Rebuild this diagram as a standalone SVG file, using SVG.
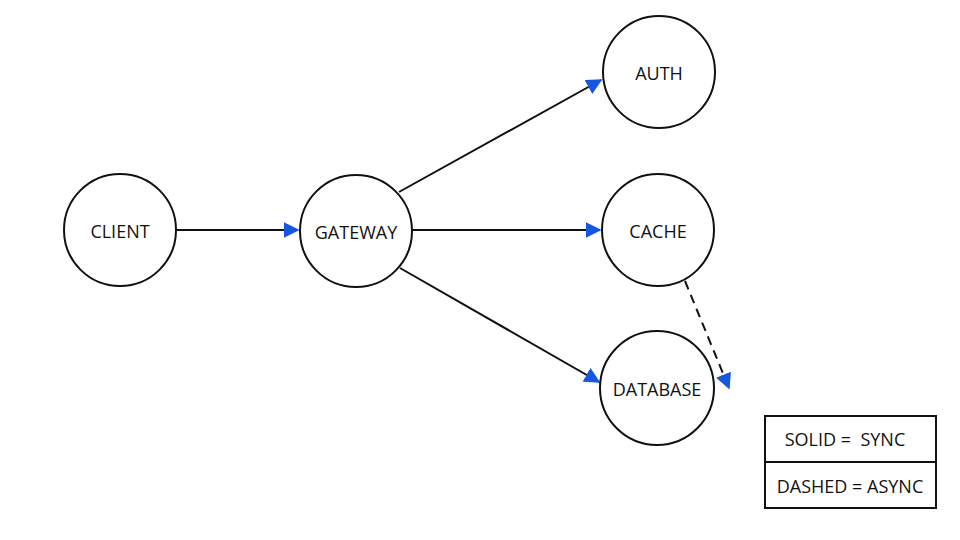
<svg xmlns="http://www.w3.org/2000/svg" width="960" height="540" viewBox="0 0 960 540">
<style>
.n{fill:#fff;stroke:#111;stroke-width:2}
.t{font-family:"Open Sans","Noto Sans",sans-serif;font-size:18px;fill:#111;text-anchor:middle;dominant-baseline:central}
.e{stroke:#111;stroke-width:2;fill:none}
</style>
<defs><marker id="a" viewBox="0 0 10 10" refX="9" refY="5" markerWidth="16" markerHeight="16" markerUnits="userSpaceOnUse" orient="auto"><path d="M0,0L10,5L0,10z" fill="#1557e0"/></marker></defs>
<rect width="960" height="540" fill="#fff"/>
<g id="connectors">
<line class="e" x1="176" y1="230" x2="298" y2="230" marker-end="url(#a)"/>
<line class="e" x1="399" y1="192" x2="601" y2="80" marker-end="url(#a)"/>
<line class="e" x1="412" y1="230" x2="600" y2="230" marker-end="url(#a)"/>
<line class="e" x1="400" y1="268" x2="599" y2="382" marker-end="url(#a)"/>
<line class="e" x1="685" y1="281" x2="729" y2="388" stroke-dasharray="9,6" marker-end="url(#a)"/>
</g>
<g id="client"><circle class="n" cx="120" cy="230" r="56"/><text class="t" x="120" y="231">CLIENT</text></g>
<g id="gateway"><circle class="n" cx="356" cy="231" r="56"/><text class="t" x="356" y="232">GATEWAY</text></g>
<g id="auth"><circle class="n" cx="659" cy="72" r="56"/><text class="t" x="659" y="73">AUTH</text></g>
<g id="cache"><circle class="n" cx="658" cy="230" r="56"/><text class="t" x="658" y="231">CACHE</text></g>
<g id="database"><circle class="n" cx="657" cy="388" r="57"/><text class="t" x="657" y="389">DATABASE</text></g>
<g id="legend"><rect x="765" y="416" width="171" height="92" fill="#fff" stroke="#111" stroke-width="2"/><line x1="765" y1="462" x2="936" y2="462" stroke="#111" stroke-width="2"/>
<text class="t" x="845" y="439" font-size="17" xml:space="preserve">SOLID =  SYNC</text><text class="t" x="850" y="486" font-size="17">DASHED = ASYNC</text></g>
</svg>
